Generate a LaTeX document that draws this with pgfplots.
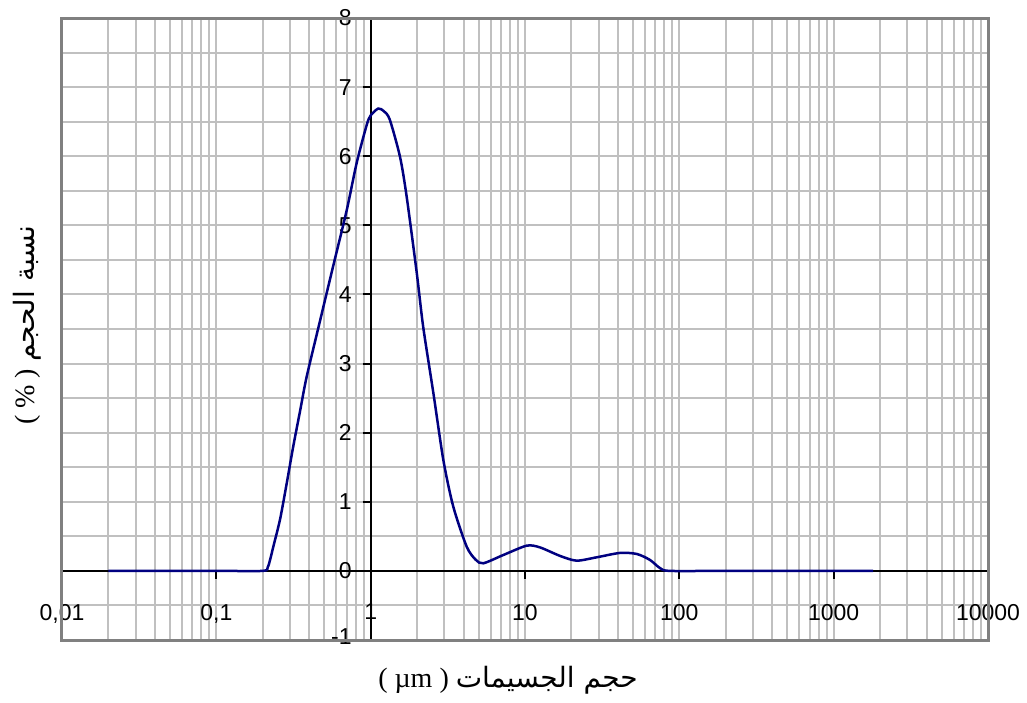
\documentclass[border=0pt]{standalone}
\usepackage{pgfplots}
\pgfplotsset{compat=1.18}
\usepackage{fontspec}
\setmainfont{Liberation Serif}
\newfontfamily\tickfont{Liberation Sans}
\newfontfamily\arabicfont[Script=Arabic]{DejaVu Sans}
\TeXXeTstate=1
\definecolor{gridgray}{HTML}{C0C0C0}
\definecolor{framegray}{HTML}{808080}
\definecolor{curve}{HTML}{000080}

\begin{document}
\begin{tikzpicture}
\begin{axis}[
    scale only axis,
    width=463pt, height=311pt,
    xmode=log,
    xmin=0.01, xmax=10000,
    ymin=-1, ymax=8,
    enlargelimits=false,
    axis lines=middle,
    axis line style={-, black, line width=1pt},
    every inner x axis line/.append style={-},
    every inner y axis line/.append style={-},
    hide obscured x ticks=false,
    hide obscured y ticks=false,
    xtick={0.01,0.1,1,10,100,1000,10000},
    xticklabels={{0,01},{0,1},1,10,100,1000,10000},
    ytick={-1,0,1,2,3,4,5,6,7,8},
    yticklabels={\raisebox{3pt}{-1},0,1,2,3,4,5,6,7,8},
    minor ytick={-0.5,0.5,1.5,2.5,3.5,4.5,5.5,6.5,7.5},
    grid=both,
    grid style={gridgray, line width=1pt},
    minor grid style={gridgray, line width=1pt},
    tick align=outside,
    major tick length=4pt,
    minor tick length=0pt,
    tick style={black, line width=1pt},
    xticklabel style={font=\tickfont\fontsize{11.5}{13}\selectfont, yshift=-9pt},
    yticklabel style={font=\tickfont\fontsize{11.5}{13}\selectfont, xshift=-2pt},
    xlabel={( µm ) {\arabicfont\beginR حجم الجسيمات\endR}},
    xlabel style={at={(axis description cs:0.4816,-0.0643)}, anchor=center, font=\fontsize{14}{16}\selectfont},
    ylabel={( \% ) {\arabicfont\beginR نسبة الحجم\endR}},
    ylabel style={at={(axis description cs:-0.038,0.506)}, anchor=center, rotate=90, font=\fontsize{14}{16}\selectfont},
    clip=false,
]
\addplot[curve, line width=1.25pt, smooth, tension=0.45] coordinates {
    (0.02,0) (0.1,0) (0.2,0) (0.215,0.05) (0.223,0.16) (0.234,0.35)
    (0.259,0.75) (0.286,1.27) (0.315,1.80) (0.35,2.33) (0.385,2.81)
    (0.47,3.62) (0.573,4.42) (0.70,5.22) (0.811,5.90) (0.942,6.45)
    (1.0,6.59) (1.12,6.69) (1.22,6.65) (1.33,6.53) (1.55,5.99)
    (1.71,5.42) (1.99,4.31) (2.19,3.53) (2.55,2.57) (2.96,1.60)
    (3.43,0.93) (4.19,0.35) (4.8,0.16) (5.37,0.11) (7.24,0.23)
    (10.26,0.365) (12.5,0.34) (16.9,0.216) (21.6,0.148) (29.2,0.197)
    (41.3,0.26) (53,0.245) (64.6,0.158) (75,0.04) (87,0) (200,0) (1800,0)
};
\draw[framegray, line width=1.5pt] (rel axis cs:0,0) rectangle (rel axis cs:1,1);
\path (rel axis cs:-0.06695,-0.09968) rectangle (rel axis cs:1.04212,1.02894);
\end{axis}
\end{tikzpicture}
\end{document}
